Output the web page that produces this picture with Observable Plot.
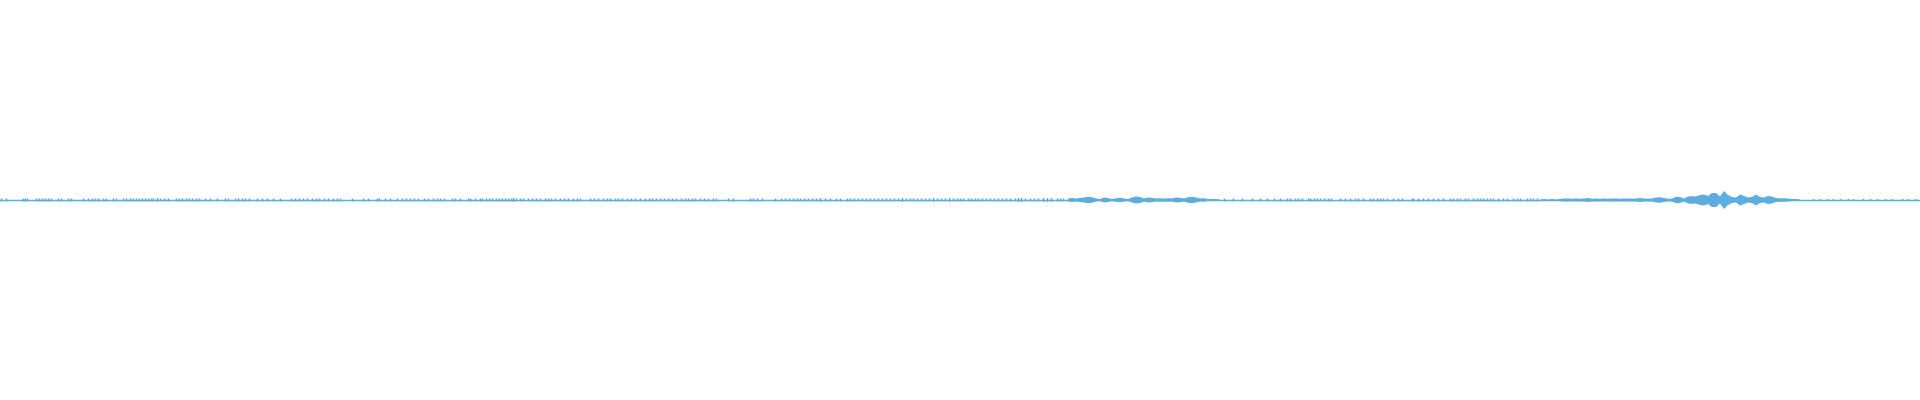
<!DOCTYPE html>
<html>
<head>
<meta charset="utf-8">
<script src="https://cdn.jsdelivr.net/npm/d3@7"></script>
<script src="https://cdn.jsdelivr.net/npm/@observablehq/plot@0.6"></script>
<style>
  html, body { margin: 0; padding: 0; background: #ffffff; }
  #chart svg { display: block; }
</style>
</head>
<body>
<div id="chart"></div>
<script>
// Sparse sample peaks in quiet passages: time position and half-amplitude
const tickTime = [
  1, 6, 23, 25, 27, 36, 39, 42, 45, 48, 51, 58, 61, 68, 71, 83, 88, 92, 95, 98,
  103, 106, 113, 116, 123, 126, 130, 133, 136, 139, 142, 145, 148, 151, 153, 157, 160, 164, 168, 176,
  179, 182, 186, 189, 192, 196, 199, 205, 210, 217, 225, 228, 235, 238, 242, 245, 249, 257, 262, 267,
  273, 280, 291, 295, 299, 303, 307, 312, 316, 319,
  324, 328, 333, 337, 340, 352, 363, 368, 377, 379, 385, 390, 397, 402, 406, 410, 414, 418, 424, 428,
  433, 437, 440, 444, 452, 455, 460, 468, 470, 475, 480, 482, 486, 489, 492, 496, 499, 502, 505, 508,
  511, 513, 516, 520, 523, 528, 532, 536, 540, 545, 548, 551, 555, 560, 564, 568, 573, 577, 580, 590,
  594, 598, 603, 607, 610, 615, 618, 622, 627, 631, 635, 640,
  645, 649, 652, 656, 660, 664, 668, 672, 676, 681, 685, 688, 692, 695, 700, 704, 708, 713, 716, 728,
  733, 750, 753, 757, 762, 775, 781, 785, 789, 793, 797, 800, 804, 808, 812, 816, 820, 825, 830, 836,
  840, 847, 850, 854, 858, 862, 866, 870, 874, 878, 882, 886, 890, 894, 898, 902, 906, 910, 913, 917,
  921, 925, 929, 933, 937, 941, 945, 949, 953, 957,
  960, 963, 968, 971, 975, 978, 982, 986, 990, 994, 998, 1002, 1006, 1010, 1015, 1018, 1021, 1025, 1030, 1034,
  1038, 1043, 1047, 1051, 1057, 1060, 1063,
  1224, 1233, 1242, 1252, 1260, 1267, 1274,
  1280, 1287, 1290, 1295, 1298, 1302, 1308, 1310, 1314, 1317, 1320, 1324, 1328, 1331, 1340, 1345, 1350, 1355, 1358, 1363,
  1370, 1373, 1377, 1380, 1383, 1387, 1393, 1398, 1402, 1412, 1413, 1418, 1423, 1428, 1433, 1438, 1443, 1450, 1453, 1457,
  1460, 1465, 1468, 1473, 1477, 1480, 1483, 1487, 1490, 1493, 1498, 1503, 1507, 1513, 1517, 1520, 1527, 1530, 1533, 1537,
  1813, 1820, 1827, 1833, 1840, 1848, 1853, 1863, 1870, 1877, 1885, 1892, 1902, 1908, 1915
];
const tickAmp = [
  1.5, 1.5, 1.5, 1.5, 1.5, 1.5, 1.5, 1.5, 1.5, 1.5, 1.5, 1.5, 1.5, 1.5, 1.5, 1.5, 1.5, 1.5, 1.5, 1.5,
  1.5, 1.5, 1.5, 1.5, 1.5, 1.5, 1.5, 1.5, 1.5, 1.5, 1.5, 1.5, 1.5, 1.5, 1.5, 2, 1.5, 1.5, 1.5, 1.5,
  1.5, 1.5, 1.5, 1.5, 1.5, 1.5, 1.5, 1.5, 1.5, 1.5, 1.5, 1.5, 1.5, 1.5, 1.5, 1.5, 1.5, 1.5, 1.5, 1.5,
  1.5, 1.5, 1.5, 1.5, 1.5, 1.5, 1.5, 1.5, 1.5, 1.5,
  1.5, 1.5, 1.5, 1.5, 1.5, 1.5, 1.5, 1.5, 1.5, 1.5, 1.5, 1.5, 1.5, 1.5, 1.5, 1.5, 1.5, 1.5, 1.5, 1.5,
  1.5, 1.5, 1.5, 1.5, 1.5, 1.5, 1.5, 1.5, 1.5, 1.5, 1.5, 1.5, 1.5, 1.5, 1.5, 1.5, 1.5, 1.5, 1.5, 1.5,
  1.5, 2, 1.5, 1.5, 1.5, 1.5, 1.5, 1.5, 1.5, 1.5, 1.5, 1.5, 1.5, 1.5, 1.5, 1.5, 1.5, 1.5, 1.5, 1.5,
  1.5, 1.5, 1.5, 1.5, 1.5, 1.5, 1.5, 1.5, 1.5, 1.5, 1.5, 1.5,
  1.5, 1.5, 1.5, 1.5, 1.5, 1.5, 1.5, 1.5, 1.5, 1.5, 1.5, 1.5, 1.5, 1.5, 1.5, 1.5, 1.5, 1.5, 1.5, 1.5,
  1.5, 1.5, 1.5, 1.5, 1.5, 1.5, 1.5, 1.5, 1.5, 1.5, 1.5, 1.5, 1.5, 1.5, 1.5, 1.5, 2, 1.5, 1.5, 1.5,
  1.5, 1.5, 1.5, 1.5, 1.5, 1.5, 1.5, 1.5, 1.5, 1.5, 1.5, 1.5, 1.5, 1.5, 1.5, 2, 1.5, 1.5, 1.5, 1.5,
  1.5, 1.5, 1.5, 2, 1.5, 1.5, 1.5, 2, 1.5, 1.5,
  1.5, 1.5, 1.5, 1.5, 1.5, 1.5, 1.5, 1.5, 1.5, 1.5, 1.5, 1.5, 1.5, 1.5, 1.5, 2, 2, 1.5, 1.5, 1.5,
  1.5, 2, 2, 2, 1.5, 1.5, 1.5,
  1.5, 1.5, 1.5, 1.5, 1.5, 1.5, 1.5,
  1.5, 1.5, 1.5, 1.5, 1.5, 1.5, 1.5, 1.5, 1.5, 1.5, 1.5, 1.5, 1.5, 1.5, 1.5, 1.5, 1.5, 1.5, 1.5, 1.5,
  1.5, 1.5, 1.5, 1.5, 1.5, 1.5, 1.5, 1.5, 1.5, 1.5, 1.5, 1.5, 1.5, 1.5, 1.5, 1.5, 1.5, 1.5, 1.5, 1.5,
  1.5, 1.5, 1.5, 1.5, 1.5, 1.5, 1.5, 1.5, 1.5, 1.5, 1.5, 1.5, 1.5, 1.5, 1.5, 1.5, 1.5, 1.5, 1.5, 1.5,
  1, 1, 1, 1, 1, 1, 1, 1, 1, 1, 1, 1, 1, 1, 1
];

// Envelope of the first burst (every 4 time units from 1068)
const burst1Start = 1068;
const burst1Amp = [
  1.5, 2, 1.5, 2, 2.5, 3.2, 2.8, 1.5, 1, 2.4, 2, 1, 1.8, 2.2, 1.5, 1,
  2.5, 3.5, 3, 1.5, 2.5, 2.2, 1.5, 1.8, 1.5, 1.8, 1.5, 2.6, 2.3, 1.5, 2.8, 3.2,
  2.5, 1.5, 1.8, 1, 1, 1, 0.5
];

// Envelope of the second, loudest burst (every 4 time units from 1540)
const burst2Start = 1540;
const burst2Amp = [
  0.5, 1, 0.5, 1, 0.5, 1, 1.5, 1.5, 1.2, 1.5, 1.2, 1.5, 2, 1.2, 1.5, 1.2,
  1.5, 1.2, 1.5, 1.5, 1.2, 1.5, 1.5, 1.5, 1.5, 2, 1.5, 1.5, 1.5, 2.5, 2.8, 2,
  1.3, 1.5, 3.3, 3, 1.5, 3.5, 3.8, 3.5, 5, 5.5, 4, 7, 7, 3.5, 9, 5,
  3, 2.5, 5.5, 4, 2.5, 3, 5.5, 3, 2.5, 4, 3.5, 2, 1.8, 1.8, 1.5, 1, 1, 0.5
];

const color = "#5dade2";

const ticks = tickTime.map((t, i) => ({t, a: tickAmp[i]}));
const env1 = burst1Amp.map((a, i) => ({t: burst1Start + 4 * i, a}));
const env2 = burst2Amp.map((a, i) => ({t: burst2Start + 4 * i, a}));

const chart = Plot.plot({
  width: 1920,
  height: 400,
  margin: 0,
  style: {background: "#ffffff"},
  x: {domain: [0, 1920], axis: null},
  y: {domain: [-200, 200], axis: null},
  marks: [
    Plot.ruleY([0], {stroke: color, strokeWidth: 1.3}),
    Plot.ruleX(ticks, {x: "t", y1: d => -d.a, y2: d => d.a, stroke: color, strokeWidth: 1.6}),
    Plot.areaY(env1, {x: "t", y1: d => -d.a, y2: d => d.a, fill: color, curve: "linear"}),
    Plot.areaY(env2, {x: "t", y1: d => -d.a, y2: d => d.a, fill: color, curve: "linear"})
  ]
});
document.getElementById("chart").appendChild(chart);
</script>
</body>
</html>
